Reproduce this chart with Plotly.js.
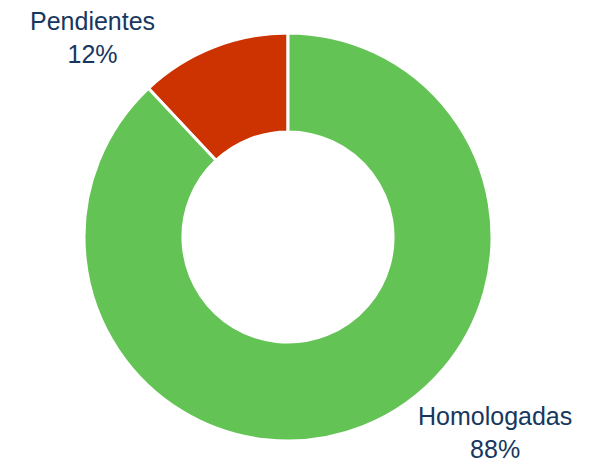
<!DOCTYPE html>
<html>
<head>
<meta charset="utf-8">
<script src="https://cdn.plot.ly/plotly-3.0.1.min.js"></script>
<style>html,body{margin:0;padding:0;background:#fff;}#chart{width:598px;height:461px;}</style>
</head>
<body>
<div id="chart"></div>
<script>
var categories = ["Pendientes", "Homologadas"];
var values = [12, 88];
var colors = ["#CC3300", "#64C355"];
var labelPos = [[92, 37], [495, 432]];

var W = 598, H = 461;
var cx = 288, cy = 237, R = 204;

var total = values.reduce(function(a, b) { return a + b; }, 0);

var trace = {
  type: "pie",
  labels: categories,
  values: values,
  sort: false,
  direction: "clockwise",
  rotation: -values[0] / total * 360,
  hole: 0.515,
  textinfo: "none",
  hoverinfo: "label+percent",
  marker: {colors: colors, line: {color: "#ffffff", width: 3}},
  domain: {x: [(cx - R) / W, (cx + R) / W], y: [1 - (cy + R) / H, 1 - (cy - R) / H]},
  showlegend: false
};

var font = {family: "Liberation Sans, Arial, sans-serif", size: 25, color: "#17375E"};
var annotations = categories.map(function(c, i) {
  return {
    xref: "paper", yref: "paper",
    x: labelPos[i][0] / W, y: 1 - labelPos[i][1] / H,
    xanchor: "center", yanchor: "middle", align: "center",
    text: c + "<br>" + Math.round(values[i] / total * 100) + "%",
    showarrow: false, font: font, borderpad: 0
  };
});

Plotly.newPlot("chart", [trace], {
  width: W, height: H,
  margin: {l: 0, r: 0, t: 0, b: 0},
  paper_bgcolor: "#ffffff",
  annotations: annotations
}, {displayModeBar: false});
</script>
</body>
</html>
